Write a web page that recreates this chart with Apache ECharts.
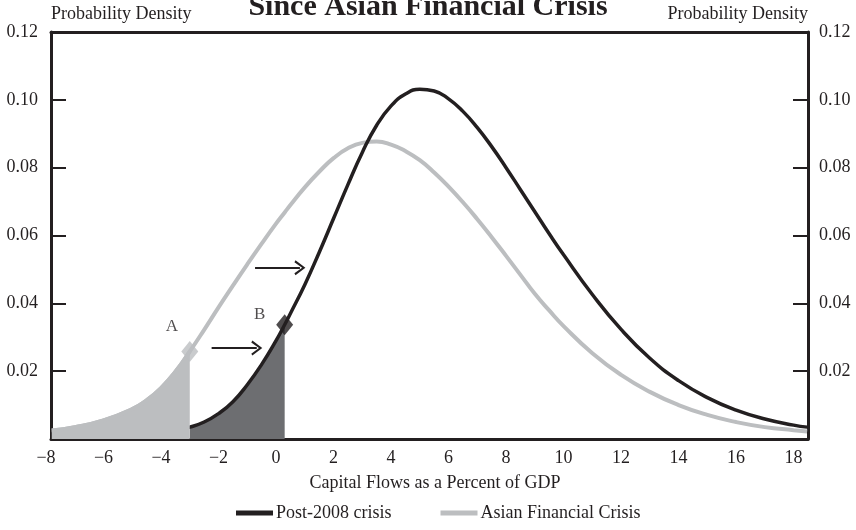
<!DOCTYPE html>
<html>
<head>
<meta charset="utf-8">
<script src="https://cdn.jsdelivr.net/npm/echarts@6/dist/echarts.min.js"></script>
<style>html,body{margin:0;padding:0;background:#fff}#c{width:856px;height:530px}</style>
</head>
<body>
<div id="c"></div>
<script>
// x positions (capital flows, % of GDP)
const xs = [-7.8,-7,-6,-5,-4.5,-4,-3.5,-3,-2.5,-2,-1.5,-1,-0.5,0,0.3,0.5,1,1.5,2,2.5,3,3.5,4,4.5,5,5.5,6,6.5,7,7.5,8,8.5,9,9.5,10,11,12,13,14,15,16,17,18,18.47];
// Asian Financial Crisis density (grey)
const asianVals = [0.0025,0.0035,0.0055,0.0088,0.0114,0.0150,0.0198,0.0258,0.0322,0.0388,0.0452,0.0515,0.0576,0.0635,0.0668,0.0690,0.0742,0.0788,0.0828,0.0857,0.0873,0.0877,0.0868,0.0849,0.0822,0.0786,0.0744,0.0698,0.0648,0.0595,0.0540,0.0484,0.0428,0.0379,0.0333,0.0253,0.0189,0.0139,0.0100,0.0071,0.0050,0.0035,0.0026,0.0022];
// Post-2008 crisis density (black)
const postVals = [0.0004,0.0006,0.0009,0.0013,0.0016,0.0020,0.0026,0.0035,0.0050,0.0075,0.0110,0.0160,0.0220,0.0290,0.0337,0.0370,0.0455,0.0550,0.0650,0.0750,0.0845,0.0925,0.0982,0.1017,0.1031,0.1026,0.1003,0.0966,0.0918,0.0862,0.0800,0.0735,0.0670,0.0605,0.0543,0.0426,0.0323,0.0238,0.0172,0.0122,0.0085,0.0059,0.0041,0.0035];
// shaded tails cut-offs and marker labels
const cutA = -3, cutB = 0.3;
const markerNames = ['A','B'];
// arrows: [x0, x1, y]
const arrows = [[-0.73, 0.83, 0.0505], [-2.24, -0.67, 0.0268]];
const xTicks = [-8,-6,-4,-2,0,2,4,6,8,10,12,14,16,18];
const yTicks = [0.02,0.04,0.06,0.08,0.10,0.12];

const FONT = 'Liberation Serif';
const INK = '#231f20', GREY = '#bcbec0', DARK = '#6d6e71';

const asianPts = xs.map((x,i)=>[x, asianVals[i]]);
const postPts = xs.map((x,i)=>[x, postVals[i]]);
const asianTail = asianPts.filter(p => p[0] <= cutA);
const postTail = postPts.filter(p => p[0] >= cutA && p[0] <= cutB);
const ptA = asianPts.find(p => p[0] === cutA);
const ptB = postPts.find(p => p[0] === cutB);

const chart = echarts.init(document.getElementById('c'), null, {renderer:'canvas'});
const frameLine = {show:true, onZero:false, lineStyle:{color:INK, width:3}};
const yLabelFmt = v => yTicks.some(t=>Math.abs(t-v)<1e-9) ? v.toFixed(2) : '';
chart.setOption({
  animation:false,
  title:{text:'Since Asian Financial Crisis', left:'center', top:-13,
    textStyle:{fontFamily:FONT, fontWeight:'bold', fontSize:30, color:INK}},
  legend:{data:['Post-2008 crisis','Asian Financial Crisis'], left:231, top:499,
    icon:'rect', itemWidth:37, itemHeight:5, itemGap:49,
    textStyle:{fontFamily:FONT, fontSize:18, color:INK, padding:[0,0,0,-2]}},
  grid:[{left:46, top:32, width:762, height:407},
        {left:51, top:32, width:757, height:407}],
  xAxis:[
    {gridIndex:0, type:'value', min:-8, max:18.5, interval:2,
      axisLine:{show:false, onZero:false}, axisTick:{show:false}, splitLine:{show:false},
      axisLabel:{margin:10, fontFamily:FONT, fontSize:18, color:INK,
        formatter:v => xTicks.some(t=>Math.abs(t-v)<1e-6) ? (v<0?'\u2212'+Math.abs(v):String(v)) : ''},
      name:'Capital Flows as a Percent of GDP', nameLocation:'middle', nameGap:35,
      nameTextStyle:{fontFamily:FONT, fontSize:18, color:INK, padding:[0,0,0,16]}},
    {gridIndex:1, type:'value', min:0, max:1, position:'bottom', axisLine:frameLine,
      axisTick:{show:false}, axisLabel:{show:false}, splitLine:{show:false}},
    {gridIndex:1, type:'value', min:0, max:1, position:'top', axisLine:frameLine,
      axisTick:{show:false}, axisLabel:{show:false}, splitLine:{show:false}}
  ],
  yAxis:[
    {gridIndex:0, type:'value', min:0, max:0.12, show:false, axisLine:{onZero:false}},
    {gridIndex:1, type:'value', min:0, max:0.12, interval:0.02, position:'left',
      axisLine:frameLine, splitLine:{show:false},
      axisTick:{show:true, inside:true, length:15, lineStyle:{color:INK, width:2}},
      axisLabel:{margin:13, fontFamily:FONT, fontSize:18, color:INK, formatter:yLabelFmt},
      name:'Probability Density', nameLocation:'end', nameGap:9,
      nameTextStyle:{fontFamily:FONT, fontSize:18, color:INK, align:'left', verticalAlign:'bottom'}},
    {gridIndex:1, type:'value', min:0, max:0.12, interval:0.02, position:'right',
      axisLine:frameLine, splitLine:{show:false},
      axisTick:{show:true, inside:true, length:15, lineStyle:{color:INK, width:2}},
      axisLabel:{margin:11, fontFamily:FONT, fontSize:18, color:INK, formatter:yLabelFmt},
      name:'Probability Density', nameLocation:'end', nameGap:9,
      nameTextStyle:{fontFamily:FONT, fontSize:18, color:INK, align:'right', verticalAlign:'bottom'}}
  ],
  series:[
    {name:'Asian Financial Crisis', type:'line', data:asianPts, smooth:0.5, showSymbol:false, z:2,
      color:GREY, lineStyle:{color:GREY, width:4}},
    {name:'tailB', type:'line', data:postTail, smooth:0.5, showSymbol:false, z:3,
      lineStyle:{width:0}, areaStyle:{color:DARK, opacity:1}},
    {name:'Post-2008 crisis', type:'line', data:postPts, smooth:0.5, showSymbol:false, z:4,
      color:INK, lineStyle:{color:INK, width:3.5},
      markLine:{silent:true, symbol:['none','path://M5,0 L10,9 L8.7,10 L5,3 L1.3,10 L0,9 Z'],
        symbolSize:[15,11], label:{show:false},
        lineStyle:{color:INK, width:2, type:'solid'},
        data: arrows.map(a => [{coord:[a[0], a[2]]}, {coord:[a[1], a[2]]}])}},
    {name:'tailA', type:'line', data:asianTail, smooth:0.5, showSymbol:false, z:5,
      lineStyle:{color:GREY, width:4}, areaStyle:{color:GREY, opacity:1}},
    {name:'markers', type:'scatter', z:6, symbol:'diamond', symbolSize:[17,21],
      data:[
        {value:ptA, itemStyle:{color:GREY}, label:{show:true, formatter:markerNames[0], offset:[-18,-25]}},
        {value:ptB, itemStyle:{color:INK}, label:{show:true, formatter:markerNames[1], offset:[-25,-10]}}
      ],
      label:{position:'inside', fontFamily:FONT, fontSize:17, color:INK}}
  ]
});
</script>
</body>
</html>
